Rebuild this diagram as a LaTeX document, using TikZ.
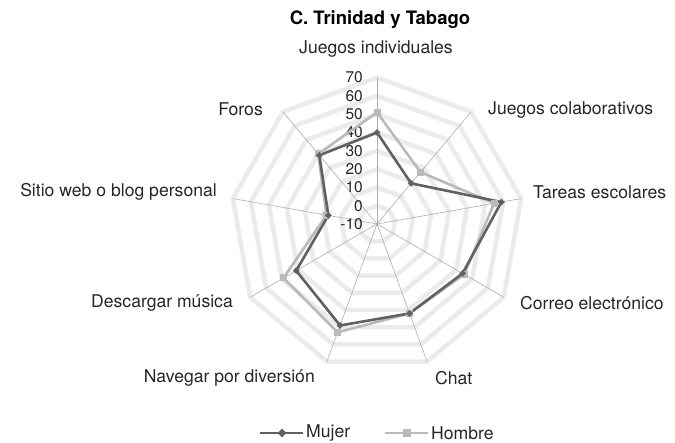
\documentclass[tikz,border=0pt]{standalone}
\usepackage{fontspec}
\setmainfont{TeX Gyre Heros}
\usetikzlibrary{arrows,positioning,shapes.geometric}

\begin{document}
\begin{tikzpicture}[x=1pt,y=1pt,node distance=3pt,
	every node/.style={font=\fontsize{17.6}{20}\selectfont,inner sep=0pt,text=black!85},
	ring/.style={black!8,line width=4.5pt,line join=round},
	spoke/.style={black!32,line width=0.6pt},
	mujer/.style={black!62,line width=2.6pt,line join=round},
	hombre/.style={black!27,line width=2.6pt,line join=round},
	mmark/.style={diamond,fill=black!62,minimum size=9pt},
	hmark/.style={rectangle,fill=black!27,minimum size=7pt}]

	\useasboundingbox (0,0) rectangle (675,442);
	\node[font=\bfseries\fontsize{18.5}{20}\selectfont,text=black] (titulo) at (380,422) {C. Trinidad y Tabago};

	\begin{scope}[shift={(377,218)}]
		% rejilla
		\foreach \r in {1,...,8}
			\draw[ring] (90:\r*18.3) \foreach \k in {1,...,8}{ -- (90-40*\k:\r*18.3)} -- cycle;
		\foreach \k in {0,...,8}
			\draw[spoke] (0,0) -- (90-40*\k:146.4);
		\foreach \v in {-10,0,...,70}
			\node[anchor=east,font=\fontsize{15.5}{17}\selectfont] (esc\v) at (-14,{(\v+10)*1.83}) {\v};

		% datos
		\foreach \v [count=\k from 0] in {51,27,55,45,42,53,49,18,40}
			\coordinate (h\k) at (90-40*\k:{(\v+10)*1.83});
		\foreach \v [count=\k from 0] in {40,19,59,44,42,49,41,17,39}
			\coordinate (m\k) at (90-40*\k:{(\v+10)*1.83});
		\draw[hombre] (h0) -- (h1) -- (h2) -- (h3) -- (h4) -- (h5) -- (h6) -- (h7) -- (h8) -- cycle;
		\draw[mujer] (m0) -- (m1) -- (m2) -- (m3) -- (m4) -- (m5) -- (m6) -- (m7) -- (m8) -- cycle;
		\foreach \k in {0,...,8}{
			\node[hmark] at (h\k) {};
			\node[mmark,minimum size=7pt] at (m\k) {};
		}
	\end{scope}

	% categorias
	\node (ji) at (376,393) {Juegos individuales};
	\node[anchor=west] (jc) at (488,332) {Juegos colaborativos};
	\node[anchor=west] (te) at (533,250) {Tareas escolares};
	\node[anchor=west] (ce) at (520,139) {Correo electrónico};
	\node[anchor=west] (ch) at (435,64) {Chat};
	\node[anchor=east] (nd) at (315,64) {Navegar por diversión};
	\node[anchor=east] (dm) at (233,139) {Descargar música};
	\node[anchor=east] (sw) at (217,250) {Sitio web o blog personal};
	\node[anchor=east] (fo) at (263,333) {Foros};

	% leyenda
	\coordinate (mA) at (260,9);
	\coordinate (mB) at (303,9);
	\coordinate (hA) at (385,9);
	\coordinate (hB) at (428,9);
	\draw[mujer,line width=2pt] (mA) -- (mB);
	\node[mmark] (mM) at (282,9) {};
	\node[right=of mB] (lm) {Mujer};
	\draw[hombre,line width=2pt] (hA) -- (hB);
	\node[hmark,minimum size=8pt] (hM) at (407,9) {};
	\node[right=of hB] (lh) {Hombre};
\end{tikzpicture}
\end{document}
